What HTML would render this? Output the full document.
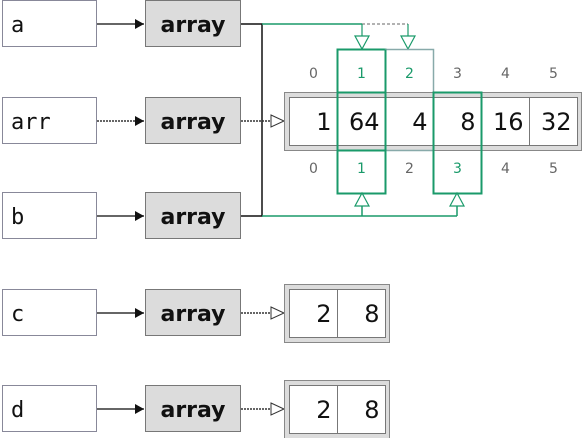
<!DOCTYPE html>
<html><head><meta charset="utf-8"><style>
html,body{margin:0;padding:0;background:#fff;}
svg{display:block;font-family:"DejaVu Sans","Liberation Sans",sans-serif;}
</style></head><body>
<svg width="582" height="438" viewBox="0 0 582 438">
<defs>
<marker id="fh" markerWidth="10" markerHeight="10" refX="9" refY="5" orient="auto" markerUnits="userSpaceOnUse"><path d="M0,0 L9,5 L0,10 Z" fill="#111"/></marker>
</defs>
<g id="rows"></g>
<!-- connectors for a/b -->
<g fill="none">
<path d="M241,24 H262 V216 H241" stroke="#111" stroke-width="1.5"/>
<path d="M262,24 H362" stroke="#1a9a6a" stroke-width="1.5"/>
<path d="M362,24 H408" stroke="#999" stroke-width="1.5" stroke-dasharray="3,2"/>
<path d="M362,24 V36 M408,24 V36" stroke="#1a9a6a" stroke-width="1.2"/>
<path d="M355,36 L369,36 L362,49 Z M401,36 L415,36 L408,49 Z" fill="#fff" stroke="#1a9a6a" stroke-width="1.2"/>
<path d="M262,216 H457 M362,216 V206 M457,216 V206" stroke="#1a9a6a" stroke-width="1.5"/>
<path d="M355,206 L369,206 L362,193 Z M450,206 L464,206 L457,193 Z" fill="#fff" stroke="#1a9a6a" stroke-width="1.2"/>
<path d="M241,121 H271" stroke="#333" stroke-width="1.5" stroke-dasharray="2,1"/>
<path d="M271,115 L284,121 L271,127 Z" fill="#fff" stroke="#333" stroke-width="1"/>
</g>
<!-- big array -->
<g>
<rect x="284.5" y="92.5" width="297" height="58" fill="#dcdcdc" stroke="#888"/>
<rect x="289.5" y="97.5" width="288" height="48" fill="#fff" stroke="#777"/>
<g id="cells"></g>
<rect x="337.5" y="49.5" width="48" height="101" fill="none" stroke="#1a9a6a" stroke-width="2"/>
<rect x="385.5" y="49.5" width="48" height="101" fill="none" stroke="#8aa" stroke-width="1.5"/>
<path d="M385.5,49.5 V150.5" stroke="#1a9a6a" stroke-width="2"/>
<rect x="337.5" y="92.5" width="48" height="101" fill="none" stroke="#1a9a6a" stroke-width="2"/>
<rect x="433.5" y="92.5" width="48" height="101" fill="none" stroke="#1a9a6a" stroke-width="2"/>
</g>
<g id="small"></g>
</svg>
<script>
const names=['a','arr','b','c','d'];
const rowY=[24,121,216,313,409];
const values=[1,64,4,8,16,32];
const smallValues=[2,8];
const ns='http://www.w3.org/2000/svg';
function mk(tag,attrs,parent,text){const e=document.createElementNS(ns,tag);for(const k in attrs)e.setAttribute(k,attrs[k]);if(text!==undefined)e.textContent=text;parent.appendChild(e);return e;}
const rows=document.getElementById('rows');
names.forEach((n,i)=>{
 const y=rowY[i];
 const g=mk('g',{},rows);
 
 
 const nb=mk('rect',{x:2.5,y:y-23.5,width:94,height:46,fill:'#fff',stroke:'#889'},g);
 
 
 const t=mk('text',{x:11,y:y+8,'font-size':22,'font-family':'"DejaVu Sans Mono","Liberation Mono",monospace',fill:'#111'},g,n);
 
 
 mk('line',{x1:97,y1:y,x2:144,y2:y,stroke:'#333','stroke-width':1.5,'stroke-dasharray':i===1?'2,1':'','marker-end':'url(#fh)'},g);
 const ab=mk('rect',{x:145.5,y:y-23.5,width:95,height:46,fill:'#dcdcdc',stroke:'#777'},g);
 
 
 const at=mk('text',{x:193,y:y+8,'font-size':22,'font-weight':'bold','text-anchor':'middle',fill:'#111'},g,'array');
 
 
});
const cells=document.getElementById('cells');
values.forEach((v,i)=>{
 const x=289.5+i*48;
 if(i>0)mk('line',{x1:x,y1:97.5,x2:x,y2:145.5,stroke:'#777'},cells);
 const t=mk('text',{x:x+42,y:130,'font-size':24,'text-anchor':'end',fill:'#111'},cells,String(v));
 
 
 const top=mk('text',{x:x+24,y:78,'font-size':14,'text-anchor':'middle',fill:(i===1||i===2)?'#1a9a6a':'#666'},cells,String(i));
 
 
 const bot=mk('text',{x:x+24,y:173,'font-size':14,'text-anchor':'middle',fill:(i===1||i===3)?'#1a9a6a':'#666'},cells,String(i));
 
 
});
const small=document.getElementById('small');
[3,4].forEach(r=>{
 const y=rowY[r];
 const g=mk('g',{},small);
 
 
 mk('line',{x1:241,y1:y,x2:271,y2:y,stroke:'#333','stroke-width':1.5,'stroke-dasharray':'2,1'},g);
 mk('path',{d:`M271,${y-6} L284,${y} L271,${y+6} Z`,fill:'#fff',stroke:'#333'},g);
 mk('rect',{x:284.5,y:y-28.5,width:105,height:58,fill:'#dcdcdc',stroke:'#888'},g);
 mk('rect',{x:289.5,y:y-23.5,width:96,height:48,fill:'#fff',stroke:'#777'},g);
 mk('line',{x1:337.5,y1:y-23.5,x2:337.5,y2:y+24.5,stroke:'#777'},g);
 smallValues.forEach((v,i)=>{
  const t=mk('text',{x:289.5+i*48+42,y:y+9,'font-size':24,'text-anchor':'end',fill:'#111'},g,String(v));
  
  
 });
});
</script>
</body></html>
